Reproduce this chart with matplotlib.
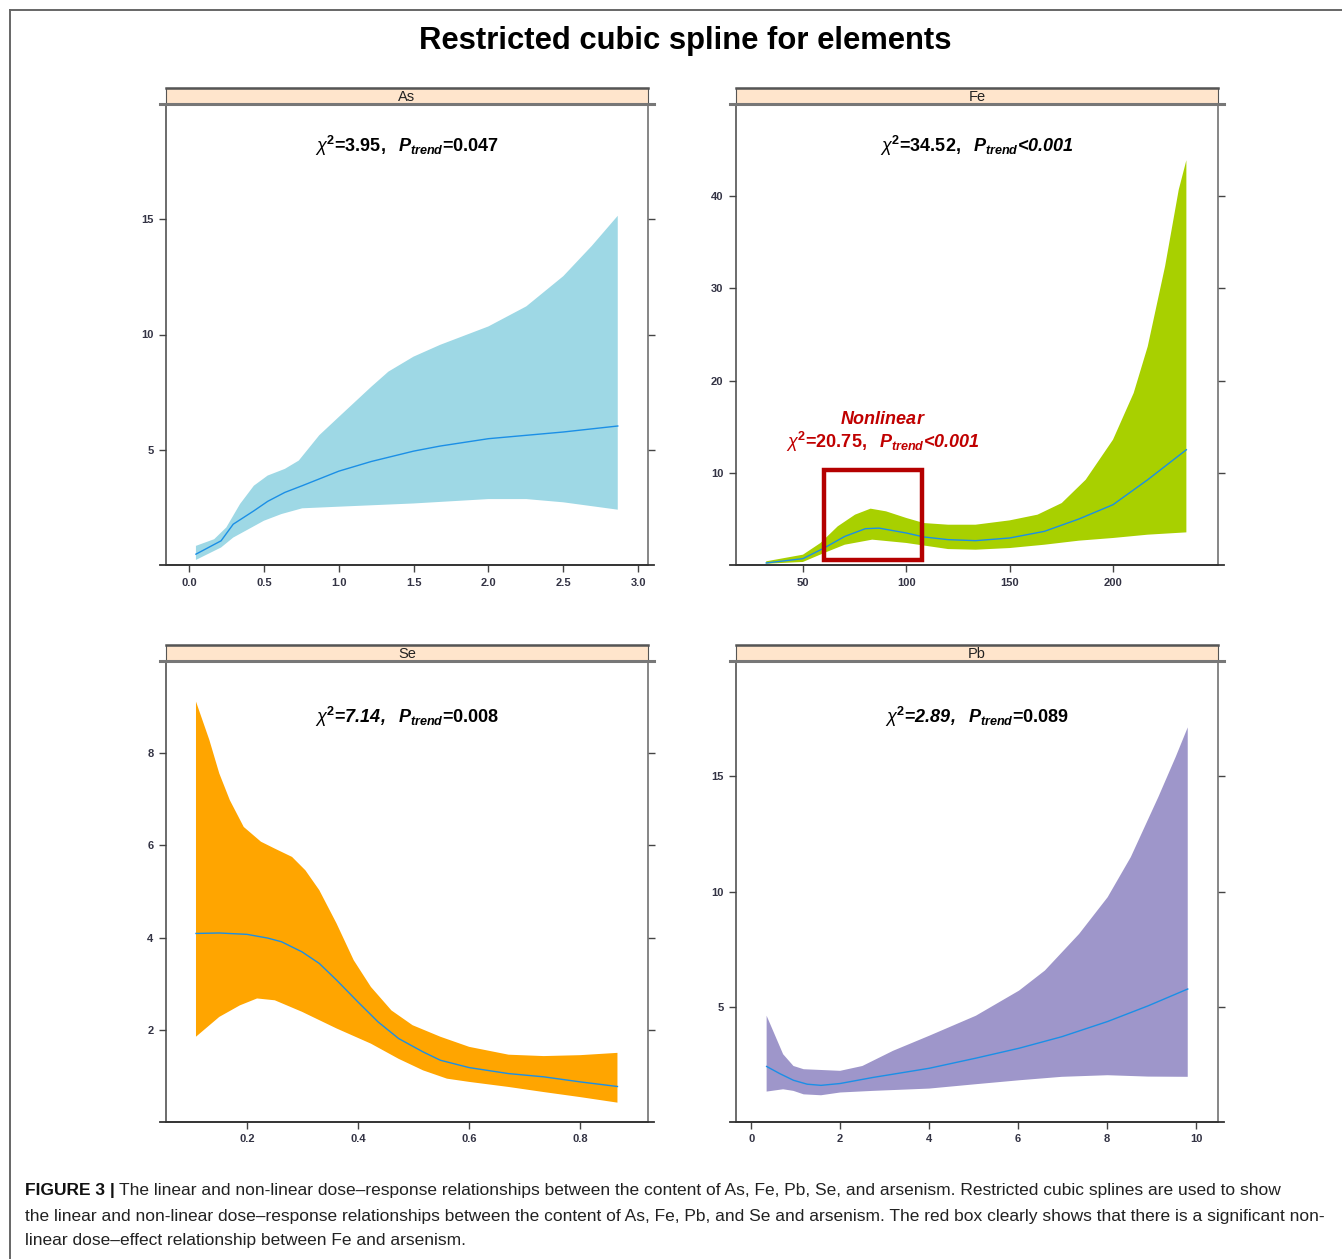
#!/usr/bin/env python3

# Restricted cubic spline panels (lattice-like) for As, Fe, Se, Pb

import numpy as np
import matplotlib
matplotlib.use("Agg")
from matplotlib import pyplot as plt
from matplotlib.patches import Rectangle
from matplotlib.text import Annotation

params = {
    'font.family': 'Liberation Sans',
    'mathtext.fontset': 'custom',
    'mathtext.rm': 'Liberation Sans',
    'mathtext.it': 'Liberation Sans:italic',
    'mathtext.bf': 'Liberation Sans:bold',
    'mathtext.bfit': 'Liberation Sans:bold:italic',
    'axes.linewidth': 1.1,
    'axes.edgecolor': '#444444',
    'xtick.labelsize': 8,
    'ytick.labelsize': 8,
    'xtick.color': '#333344',
    'ytick.color': '#333344',
}
matplotlib.rcParams.update(params)

# ---------------- data ----------------
as_x_fit = [0.046, 0.214, 0.295, 0.433, 0.525, 0.64, 0.756, 1.0, 1.217, 1.5, 1.677, 2.0, 2.5, 2.864]
as_fit = [0.47, 1.05, 1.77, 2.35, 2.76, 3.15, 3.44, 4.07, 4.49, 4.94, 5.16, 5.48, 5.77, 6.03]
as_x_up = [0.046, 0.168, 0.249, 0.341, 0.433, 0.525, 0.64, 0.733, 0.87, 1.0, 1.217, 1.332, 1.5,
           1.677, 2.0, 2.253, 2.5, 2.69, 2.864]
as_up = [0.83, 1.12, 1.63, 2.65, 3.44, 3.88, 4.17, 4.53, 5.63, 6.42, 7.73, 8.39, 9.04,
         9.55, 10.35, 11.22, 12.53, 13.84, 15.15]
as_x_lo = [0.046, 0.214, 0.295, 0.5, 0.617, 0.756, 1.0, 1.5, 2.0, 2.253, 2.5, 2.864]
as_lo = [0.22, 0.76, 1.19, 1.92, 2.21, 2.46, 2.53, 2.67, 2.86, 2.86, 2.72, 2.40]

fe_x_fit = [32.2, 50, 60.2, 70.2, 80.2, 86.8, 100, 108.5, 120.2, 133.5, 150, 166.8, 183.5, 200, 216.8, 235.5]
fe_fit = [0.22, 0.69, 1.84, 3.1, 3.94, 4.0, 3.47, 3.04, 2.75, 2.64, 2.93, 3.65, 4.99, 6.54, 9.25, 12.5]
fe_x_up = [32.2, 50, 58.5, 66.8, 75.2, 82.7, 90.2, 100, 108.5, 120.2, 133.5, 150, 163.5, 175.2,
           186.8, 200, 210, 216.8, 225.2, 231.8, 235.5]
fe_up = [0.4, 1.12, 2.39, 4.19, 5.46, 6.11, 5.82, 5.1, 4.55, 4.37, 4.37, 4.84, 5.46, 6.72,
         9.25, 13.59, 18.65, 23.7, 32.4, 40.7, 43.9]
fe_x_lo = [32.2, 50, 60.2, 70.2, 83.5, 100, 120.2, 133.5, 150, 166.8, 183.5, 200, 216.8, 235.5]
fe_lo = [0.14, 0.33, 1.3, 2.2, 2.75, 2.39, 1.73, 1.66, 1.84, 2.2, 2.64, 2.93, 3.29, 3.54]

se_x_fit = [0.108, 0.150, 0.2, 0.237, 0.262, 0.299, 0.330, 0.361, 0.4, 0.436, 0.473, 0.517, 0.548,
            0.6, 0.671, 0.734, 0.8, 0.867]
se_fit = [4.09, 4.1, 4.07, 3.99, 3.91, 3.69, 3.44, 3.08, 2.60, 2.17, 1.81, 1.52, 1.34,
          1.18, 1.05, 0.98, 0.87, 0.77]
se_x_up = [0.108, 0.132, 0.150, 0.169, 0.194, 0.225, 0.25, 0.281, 0.305, 0.330, 0.361, 0.392, 0.423,
           0.460, 0.498, 0.548, 0.6, 0.671, 0.734, 0.8, 0.867]
se_up = [9.12, 8.29, 7.56, 6.98, 6.4, 6.08, 5.93, 5.75, 5.46, 5.03, 4.31, 3.51, 2.93,
         2.42, 2.10, 1.85, 1.63, 1.46, 1.43, 1.45, 1.5]
se_x_lo = [0.108, 0.150, 0.187, 0.218, 0.25, 0.299, 0.361, 0.423, 0.473, 0.517, 0.560, 0.6, 0.671,
           0.734, 0.8, 0.867]
se_lo = [1.85, 2.28, 2.53, 2.68, 2.64, 2.39, 2.03, 1.70, 1.37, 1.12, 0.94, 0.87, 0.76,
         0.65, 0.54, 0.42]

pb_x_fit = [0.348, 0.642, 0.951, 1.26, 1.57, 2, 2.73, 4, 5.05, 6.02, 6.98, 8.01, 8.92, 9.81]
pb_fit = [2.41, 2.10, 1.81, 1.64, 1.59, 1.67, 1.93, 2.33, 2.77, 3.2, 3.7, 4.36, 5.04, 5.77]
pb_x_up = [0.348, 0.526, 0.719, 0.951, 1.18, 2, 2.5, 3.19, 4, 5.05, 6.02, 6.6, 7.37, 8.01,
           8.53, 9.15, 9.54, 9.81]
pb_up = [4.61, 3.81, 2.94, 2.43, 2.29, 2.22, 2.43, 3.09, 3.74, 4.61, 5.70, 6.57, 8.16, 9.75,
         11.49, 14.1, 15.84, 17.12]
pb_x_lo = [0.348, 0.719, 0.951, 1.18, 1.57, 2, 2.73, 4, 5.05, 6.02, 6.98, 8.01, 8.92, 9.81]
pb_lo = [1.32, 1.42, 1.35, 1.2, 1.16, 1.28, 1.35, 1.45, 1.64, 1.81, 1.96, 2.03, 1.97, 1.96]

# red "nonlinear" box on the Fe panel: x0, x1, y0, y1
fe_box_x = [60, 107.5]
fe_box_y = [0.5, 10.3]


def stat_label(chi, chi_italic, rel, p, p_italic):
    # "=" and "<" get no spacing around them, like the original
    nospace = r'\hspace{-0.2}'
    f_chi = r'\mathbfit' if chi_italic else r'\mathbf'
    f_p = r'\mathbfit' if p_italic else r'\mathbf'
    return (r'$\chi^{\mathbf{2}}' + nospace + r'\mathbf{=}' + nospace
            + f_chi + '{' + chi + r',}\ \ \mathbfit{P}_{\mathbfit{trend}}'
            + nospace + f_p + '{' + rel + '}' + nospace + f_p + '{' + p + '}$')


panels = [
    dict(name='As', fit=(as_x_fit, as_fit), up=(as_x_up, as_up), lo=(as_x_lo, as_lo),
         xlim=(-0.154, 3.066), ylim=(0, 20), xt=[0.0, 0.5, 1.0, 1.5, 2.0, 2.5, 3.0],
         xtl=['0.0', '0.5', '1.0', '1.5', '2.0', '2.5', '3.0'], yt=[5, 10, 15], col='#9ed8e5',
         lab=stat_label('3.95', False, '=', '0.047', False)),
    dict(name='Fe', fit=(fe_x_fit, fe_fit), up=(fe_x_up, fe_up), lo=(fe_x_lo, fe_lo),
         xlim=(17.6, 250.8), ylim=(0, 50), xt=[50, 100, 150, 200],
         xtl=['50', '100', '150', '200'], yt=[10, 20, 30, 40], col='#a8d000',
         lab=stat_label('34.52', False, '<', '0.001', True)),
    dict(name='Se', fit=(se_x_fit, se_fit), up=(se_x_up, se_up), lo=(se_x_lo, se_lo),
         xlim=(0.054, 0.922), ylim=(0, 10), xt=[0.2, 0.4, 0.6, 0.8],
         xtl=['0.2', '0.4', '0.6', '0.8'], yt=[2, 4, 6, 8], col='#ffa500',
         lab=stat_label('7.14', True, '=', '0.008', False)),
    dict(name='Pb', fit=(pb_x_fit, pb_fit), up=(pb_x_up, pb_up), lo=(pb_x_lo, pb_lo),
         xlim=(-0.34, 10.49), ylim=(0, 20), xt=[0, 2, 4, 6, 8, 10],
         xtl=['0', '2', '4', '6', '8', '10'], yt=[5, 10, 15], col='#9e96ca',
         lab=stat_label('2.89', True, '=', '0.089', False)),
]

W, H = 1342, 1259
fig = plt.figure(figsize=(W / 100, H / 100), dpi=100)

# outer frame (top and left only)
fig.add_artist(plt.Line2D([10 / W, 1], [1 - 10 / H, 1 - 10 / H], color='#666666', lw=1.4))
fig.add_artist(plt.Line2D([10 / W, 10 / W], [0, 1 - 10 / H], color='#666666', lw=1.4))

fig.text(0.5105, 1 - 41 / H, 'Restricted cubic spline for elements',
         ha='center', va='center', fontsize=22.3, fontweight='bold')

lefts = [166, 736, 166, 736]
bottoms = [565, 565, 1122, 1122]
pw, ph = 482, 461
strip_h = 16 / ph

for p, l, b in zip(panels, lefts, bottoms):
    ax = fig.add_axes([l / W, 1 - b / H, pw / W, ph / H])
    xs = np.concatenate([p['up'][0], p['lo'][0][::-1]])
    ys = np.concatenate([p['up'][1], p['lo'][1][::-1]])
    ax.fill(xs, ys, color=p['col'], lw=0)
    ax.plot(p['fit'][0], p['fit'][1], color='#1b8fe6', lw=1.0)

    ax.set_xlim(*p['xlim'])
    ax.set_ylim(*p['ylim'])
    ax.set_xticks(p['xt'])
    ax.set_xticklabels(p['xtl'], fontweight='bold')
    ax.set_yticks(p['yt'])
    ax.set_yticklabels([str(v) for v in p['yt']], fontweight='bold')
    ax.tick_params(direction='out', length=5, width=1.0, color='#444444',
                   left=True, right=True, bottom=True, top=False, pad=4)
    ax.spines['right'].set_color('#666666')

    # lattice-like strip
    ax.add_patch(Rectangle((0, 1), 1, strip_h, transform=ax.transAxes, clip_on=False,
                           fc='#ffe5cc', ec='#555555', lw=0.8, zorder=5))
    ax.plot([-0.012, 1.012], [1, 1], transform=ax.transAxes, clip_on=False,
            color='#777777', lw=2.2, zorder=6)
    ax.plot([0, 1], [1 + strip_h, 1 + strip_h], transform=ax.transAxes, clip_on=False,
            color='#555555', lw=1.8, zorder=6)
    ax.plot([-0.012, 1.012], [0, 0], transform=ax.transAxes, clip_on=False,
            color='#333333', lw=1.3, zorder=6)
    ax.text(0.5, 1 + strip_h / 2 - 0.003, p['name'], transform=ax.transAxes,
            ha='center', va='center', fontsize=10.5, color='#222222', zorder=7)

    ypos = 0.909 if b == 565 else 0.878
    ax.text(0.5, ypos, p['lab'], transform=ax.transAxes, ha='center', va='center',
            fontsize=13)

    if p['name'] == 'Fe':
        ax.add_patch(Rectangle((fe_box_x[0], fe_box_y[0]), fe_box_x[1] - fe_box_x[0],
                               fe_box_y[1] - fe_box_y[0], fill=False, ec='#b40000',
                               lw=3.2, zorder=4))
        ax.text(88.7, 15.8, r'$\mathbfit{Nonlinear}$', ha='center', va='center',
                fontsize=13, color='#c00000')
        ax.text(88.7, 13.3, stat_label('20.75', False, '<', '0.001', True),
                ha='center', va='center', fontsize=13, color='#c00000')

# caption
cap_size = 12.5
cap_lines = [
    'The linear and non-linear dose\u2013response relationships between the content of As, Fe, Pb, Se, '
    'and arsenism. Restricted cubic splines are used to show',
    'the linear and non-linear dose\u2013response relationships between the content of As, Fe, Pb, and Se '
    'and arsenism. The red box clearly shows that there is a significant non-',
    'linear dose\u2013effect relationship between Fe and arsenism.',
]
cap_y = [1190, 1216, 1241]
t0 = fig.text(25 / W, 1 - cap_y[0] / H, 'FIGURE 3 |', fontsize=cap_size, fontweight='bold',
              va='center', color='#111111')
fig.add_artist(Annotation(cap_lines[0], xy=(1, 0.5), xycoords=t0, xytext=(3, 0),
                          textcoords='offset points', va='center', fontsize=cap_size,
                          color='#222222'))
for line, y in zip(cap_lines[1:], cap_y[1:]):
    fig.text(25 / W, 1 - y / H, line, fontsize=cap_size, va='center', color='#222222')

plt.savefig('out.png', dpi=100)
